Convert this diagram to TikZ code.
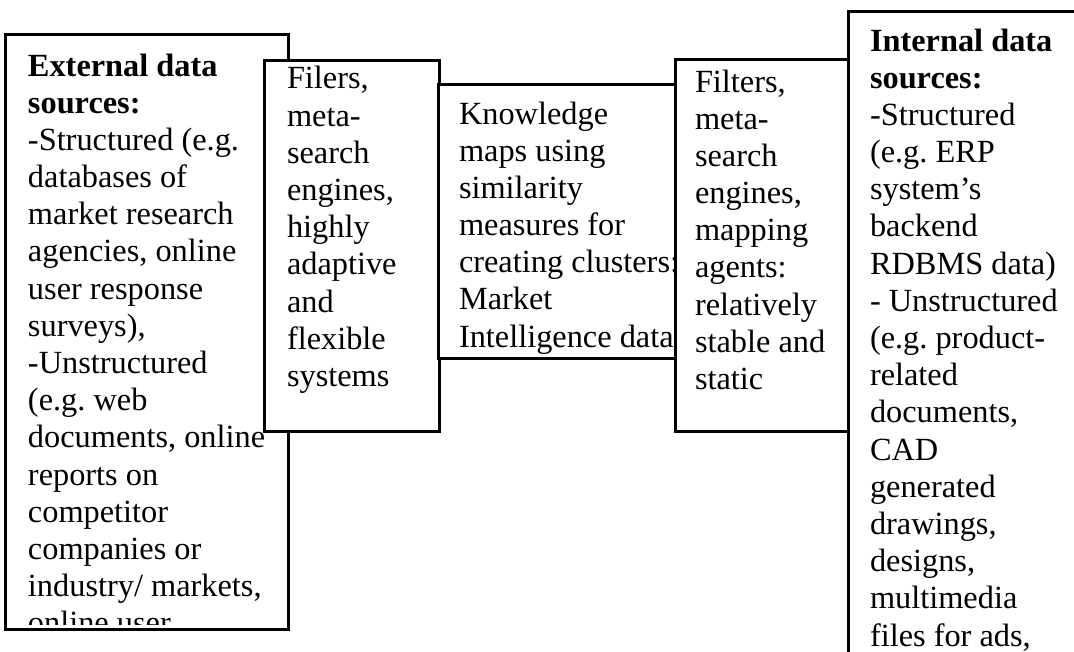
\documentclass[tikz,border=0pt]{standalone}
\usepackage{fontspec}
\setmainfont{Liberation Serif}
\usetikzlibrary{fit}
\newcommand{\txtlines}[1]{\parbox[t]{200pt}{\fontsize{12pt}{13.8pt}\selectfont\frenchspacing\raggedright #1}}
\tikzset{
  boxfill/.style={fill=white, inner sep=0pt, rectangle, draw=none},
  boxline/.style={draw=black, line width=0.8pt},
  boxtext/.style={anchor=base west, inner sep=0pt, outer sep=0pt},
}
\begin{document}
\begin{tikzpicture}[x=0.371pt, y=-0.371pt]
\useasboundingbox (0,0) rectangle (1074,652);
\clip (0,0) rectangle (1074,652);
\fill[white] (0,0) rectangle (1074,652);

% External data sources
\coordinate (e1) at (6,35);
\coordinate (e2) at (288,629);
\node[boxfill, fit=(e1)(e2)] (ext) {};
\begin{scope}
\clip (6,35) rectangle (288,624);
\node[boxtext] (exttext) at (28,76) {\txtlines{\textbf{External data}\\ \textbf{sources:}\\ -Structured (e.g.\\ databases of\\ market research\\ agencies, online\\ user response\\ surveys),\\ -Unstructured\\ (e.g. web\\ documents, online\\ reports on\\ competitor\\ companies or\\ industry/ markets,\\ online user}};
\end{scope}
\draw[boxline] (ext.north west) rectangle (ext.south east);

% Filers box
\coordinate (f1) at (265,61);
\coordinate (f2) at (439,431);
\node[boxfill, fit=(f1)(f2)] (filers) {};
\begin{scope}
\clip (265,61) rectangle (439,431);
\node[boxtext] (filerstext) at (287,89) {\txtlines{Filers,\\ meta-\\ search\\ engines,\\ highly\\ adaptive\\ and\\ flexible\\ systems}};
\end{scope}
\draw[boxline] (filers.north west) rectangle (filers.south east);

% Knowledge maps
\coordinate (k1) at (439,85);
\coordinate (k2) at (676,358);
\node[boxfill, fit=(k1)(k2)] (know) {};
\begin{scope}
\clip (439,85) rectangle (676,355);
\node[boxtext] (knowtext) at (459,124) {\txtlines{Knowledge\\ maps using\\ similarity\\ measures for\\ creating clusters:\\ Market\\ Intelligence data}};
\end{scope}
\draw[boxline] (know.north west) rectangle (know.south east);

% Filters box
\coordinate (g1) at (676,60);
\coordinate (g2) at (849,431);
\node[boxfill, fit=(g1)(g2)] (filters) {};
\begin{scope}
\clip (676,60) rectangle (849,431);
\node[boxtext] (filterstext) at (695,92) {\txtlines{Filters,\\ meta-\\ search\\ engines,\\ mapping\\ agents:\\ relatively\\ stable and\\ static}};
\end{scope}
\draw[boxline] (filters.north west) rectangle (filters.south east);

% Internal data sources
\coordinate (i1) at (849,12);
\coordinate (i2) at (1090,670);
\node[boxfill, fit=(i1)(i2)] (int) {};
\begin{scope}
\clip (849,12) rectangle (1090,670);
\node[boxtext] (inttext) at (870,51) {\txtlines{\textbf{Internal data}\\ \textbf{sources:}\\ -Structured\\ (e.g. ERP\\ system’s\\ backend\\ RDBMS data)\\ - Unstructured\\ (e.g. product-\\ related\\ documents,\\ CAD\\ generated\\ drawings,\\ designs,\\ multimedia\\ files for ads,}};
\end{scope}
\draw[boxline] (int.north west) rectangle (int.south east);
\end{tikzpicture}
\end{document}
